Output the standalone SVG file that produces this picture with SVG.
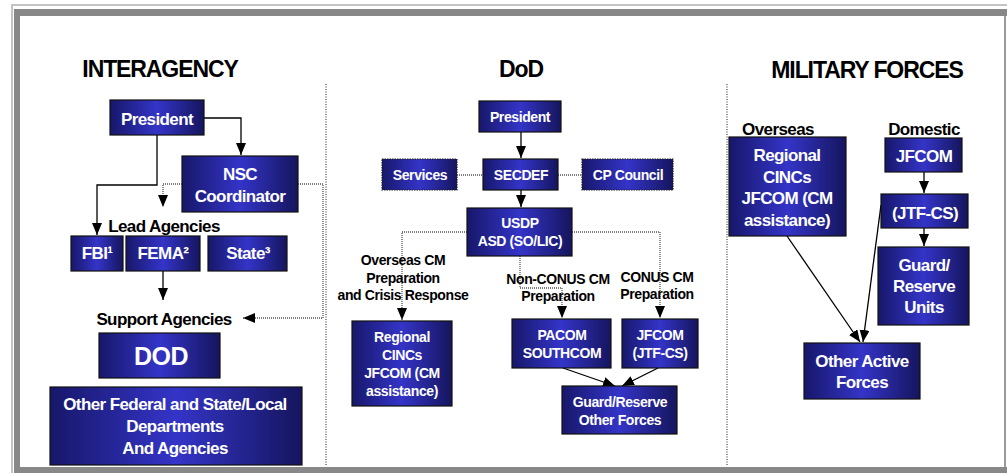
<svg xmlns="http://www.w3.org/2000/svg" width="1007" height="473" viewBox="0 0 1007 473">
<style>
.t{font-family:"Liberation Sans",Arial,sans-serif;font-weight:bold;text-anchor:middle}
.w{fill:#fff}
.k{fill:#000}
.title{font-size:23px;letter-spacing:-1.1px}
.f17{font-size:17px;letter-spacing:-0.6px}
.f14{font-size:14px;letter-spacing:-0.4px}
.f25{font-size:25px;letter-spacing:-0.6px}
.box{fill:url(#g);stroke:#111;stroke-width:1.2}
.dbox{fill:url(#g);stroke:#222;stroke-width:1.2;stroke-dasharray:1.5,1}
.sl{fill:none;stroke:#000;stroke-width:1.3}
.dl{fill:none;stroke:#555;stroke-width:1.3;stroke-dasharray:1,1}
.sep{fill:none;stroke:#444;stroke-width:1.2;stroke-dasharray:1,1.5}
</style>
<defs>
<linearGradient id="g" x1="0" y1="0" x2="1" y2="0">
<stop offset="0" stop-color="#17176a"/>
<stop offset="0.5" stop-color="#3434c8"/>
<stop offset="1" stop-color="#15155e"/>
</linearGradient>
<marker id="ah" markerUnits="userSpaceOnUse" markerWidth="13" markerHeight="11" refX="12" refY="5" orient="auto" viewBox="0 0 13 11">
<path d="M0,0 L12,5 L0,10 Z" fill="#000"/>
</marker>
</defs>
<rect x="0" y="0" width="1007" height="473" fill="#fff"/>
<g id="frame">
<rect x="11" y="4" width="996" height="2" fill="#c4c4c4"/>
<rect x="11" y="4" width="2" height="469" fill="#c4c4c4"/>
<rect x="14" y="9" width="993" height="7" fill="#888"/>
<rect x="14" y="9" width="6" height="464" fill="#888"/>
<rect x="14" y="467" width="993" height="6" fill="#888"/>
<rect x="1004" y="16" width="2" height="451" fill="#9a9a9a"/>
</g>
<g id="separators">
<path class="sep" d="M326,84 V466"/>
<path class="sep" d="M727,84 V465"/>
</g>
<g id="titles">
<text class="t k title" x="160" y="77">INTERAGENCY</text>
<text class="t k title" x="521" y="77">DoD</text>
<text class="t k title" x="867" y="78">MILITARY FORCES</text>
</g>
<g id="connectors">
<path class="sl" d="M204,118 H241 V155" marker-end="url(#ah)"/>
<path class="sl" d="M157,135 V185 H97 V235" marker-end="url(#ah)"/>
<path class="dl" d="M182,184 H163 V207" marker-end="url(#ah)"/>
<path class="dl" d="M298,184 H323 V318 H243" marker-end="url(#ah)"/>
<path class="sl" d="M163,271 V300" marker-end="url(#ah)"/>
<path class="sl" d="M521,132 V158" marker-end="url(#ah)"/>
<path class="dl" d="M457,175 H483"/>
<path class="dl" d="M558,175 H582"/>
<path class="sl" d="M521,190 V207" marker-end="url(#ah)"/>
<path class="dl" d="M467,232 H402 V320" marker-end="url(#ah)"/>
<path class="dl" d="M572,232 H660 V318" marker-end="url(#ah)"/>
<path class="dl" d="M520,256 V288 H562 V318" marker-end="url(#ah)"/>
<path class="sl" d="M563,368 L615,386" marker-end="url(#ah)"/>
<path class="sl" d="M658,368 L622,386" marker-end="url(#ah)"/>
<path class="sl" d="M924,172 V193" marker-end="url(#ah)"/>
<path class="sl" d="M924,228 V246" marker-end="url(#ah)"/>
<path class="sl" d="M787,236 L860,342" marker-end="url(#ah)"/>
<path class="sl" d="M881,205 L863,342" marker-end="url(#ah)"/>
</g>
<g id="labels">
<text class="t k f17" x="164" y="232">Lead Agencies</text>
<text class="t k f17" x="164" y="325">Support Agencies</text>
<text class="t k f14" x="403" y="265">Overseas CM</text>
<text class="t k f14" x="403" y="282.5">Preparation</text>
<text class="t k f14" x="403" y="300">and Crisis Response</text>
<text class="t k f14" x="558" y="284">Non-CONUS CM</text>
<text class="t k f14" x="558" y="301">Preparation</text>
<text class="t k f14" x="657" y="282">CONUS CM</text>
<text class="t k f14" x="657" y="299">Preparation</text>
<text class="t k f17" x="778" y="135">Overseas</text>
<text class="t k f17" x="924" y="135">Domestic</text>
</g>
<g id="ia-president"><rect class="box" x="110" y="100" width="94" height="35"/><text class="t w f17" x="157" y="125">President</text></g>
<g id="ia-nsc"><rect class="box" x="182" y="156" width="116" height="56"/><text class="t w f17" x="240" y="180">NSC</text><text class="t w f17" x="240" y="202">Coordinator</text></g>
<g id="ia-fbi"><rect class="box" x="71" y="236" width="52" height="35"/><text class="t w f17" x="97" y="259">FBI¹</text></g>
<g id="ia-fema"><rect class="box" x="126" y="236" width="74" height="35"/><text class="t w f17" x="163" y="259">FEMA²</text></g>
<g id="ia-state"><rect class="box" x="208" y="236" width="79" height="35"/><text class="t w f17" x="248" y="259">State³</text></g>
<g id="ia-dod"><rect class="box" x="99" y="333" width="121" height="45"/><text class="t w f25" x="161" y="365">DOD</text></g>
<g id="ia-other"><rect class="box" x="50" y="387" width="252" height="78"/><text class="t w f17" x="175" y="410">Other Federal and State/Local</text><text class="t w f17" x="175" y="432">Departments</text><text class="t w f17" x="175" y="454">And Agencies</text></g>
<g id="dod-president"><rect class="box" x="479" y="101" width="82" height="31"/><text class="t w f14" x="520" y="122">President</text></g>
<g id="dod-services"><rect class="dbox" x="382" y="159" width="75" height="31"/><text class="t w f14" x="420" y="180">Services</text></g>
<g id="dod-secdef"><rect class="box" x="483" y="159" width="75" height="31"/><text class="t w f14" x="521" y="180">SECDEF</text></g>
<g id="dod-cpcouncil"><rect class="dbox" x="582" y="159" width="91" height="31"/><text class="t w f14" x="628" y="180">CP Council</text></g>
<g id="dod-usdp"><rect class="box" x="467" y="208" width="105" height="48"/><text class="t w f14" x="520" y="228">USDP</text><text class="t w f14" x="520" y="246">ASD (SO/LIC)</text></g>
<g id="dod-regional"><rect class="box" x="352" y="321" width="100" height="85"/><text class="t w f14" x="402" y="342">Regional</text><text class="t w f14" x="402" y="360">CINCs</text><text class="t w f14" x="402" y="378">JFCOM (CM</text><text class="t w f14" x="402" y="396">assistance)</text></g>
<g id="dod-pacom"><rect class="box" x="512" y="319" width="99" height="49"/><text class="t w f14" x="562" y="340">PACOM</text><text class="t w f14" x="562" y="358">SOUTHCOM</text></g>
<g id="dod-jfcom"><rect class="box" x="622" y="319" width="76" height="49"/><text class="t w f14" x="660" y="340">JFCOM</text><text class="t w f14" x="660" y="358">(JTF-CS)</text></g>
<g id="dod-guard"><rect class="box" x="562" y="386" width="115" height="48"/><text class="t w f14" x="620" y="407">Guard/Reserve</text><text class="t w f14" x="620" y="425">Other Forces</text></g>
<g id="mf-regional"><rect class="box" x="729" y="137" width="117" height="99"/><text class="t w f17" x="787" y="161">Regional</text><text class="t w f17" x="787" y="182.5">CINCs</text><text class="t w f17" x="787" y="204">JFCOM (CM</text><text class="t w f17" x="787" y="225.5">assistance)</text></g>
<g id="mf-jfcom"><rect class="box" x="885" y="138" width="77" height="34"/><text class="t w f17" x="924" y="162">JFCOM</text></g>
<g id="mf-jtfcs"><rect class="box" x="881" y="194" width="87" height="34"/><text class="t w f17" x="925" y="219">(JTF-CS)</text></g>
<g id="mf-guard"><rect class="box" x="878" y="247" width="91" height="78"/><text class="t w f17" x="924" y="271">Guard/</text><text class="t w f17" x="924" y="292">Reserve</text><text class="t w f17" x="924" y="313">Units</text></g>
<g id="mf-other"><rect class="box" x="804" y="343" width="116" height="56"/><text class="t w f17" x="862" y="367">Other Active</text><text class="t w f17" x="862" y="388">Forces</text></g>
</svg>
